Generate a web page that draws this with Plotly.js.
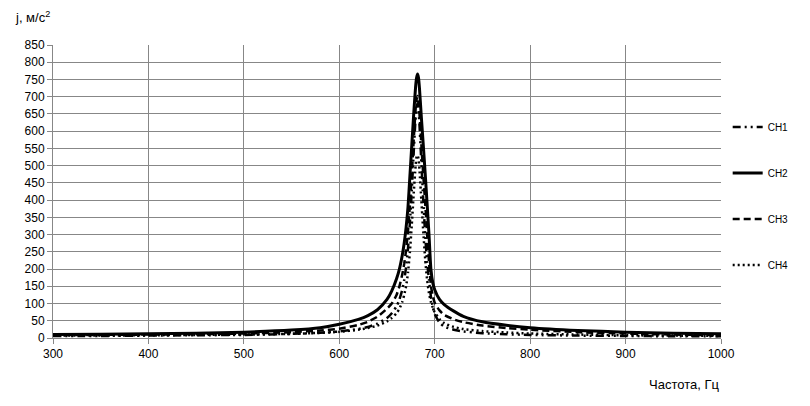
<!DOCTYPE html>
<html>
<head>
<meta charset="utf-8">
<script src="https://cdn.plot.ly/plotly-3.0.1.min.js"></script>
<style>html,body{margin:0;padding:0;background:#fff;}#chart{width:810px;height:406px;}</style>
</head>
<body>
<div id="chart"></div>
<script>
const freq = [300,350,400,450,500,550,580,600,620,630,640,650,655,660,663,666,668,670,672,674,676,678,680,681,682,683,684,686,688,690,692,694,696,698,700,705,710,720,730,750,775,800,850,900,950,1000];
const ch1 = [6,6,7,8,9,12,15,19,26,32,42,58,72,92,112,140,168,205,260,335,430,540,640,670,680,665,620,510,400,300,220,170,120,90,70,45,33,24,19,14,11,9,7,6,5,5];
const ch2 = [10,11,12,14,17,23,30,40,54,65,82,112,137,172,200,240,275,320,380,470,560,650,730,755,766,755,725,640,560,478,390,300,200,160,140,112,97,78,63,47,37,30,22,17,14,12];
const ch3 = [8,9,10,11,13,17,22,27,38,47,62,85,100,125,150,185,215,255,310,385,475,575,665,692,702,688,652,562,472,392,302,222,152,122,102,80,67,54,46,36,29,24,17,13,10,8];
const ch4 = [7,7,8,9,10,12,15,18,24,29,36,48,58,72,85,105,125,150,190,250,330,420,500,525,530,520,490,400,310,230,170,130,105,88,75,55,43,32,26,20,16,13,10,8,7,6];
const names = ['CH1','CH2','CH3','CH4'];
const series = [ch1, ch2, ch3, ch4];
const dashes = ['8px,4px,2px,4px,2px,4px','solid','7px,4px','2px,3px'];
const widths = [2.5, 3, 2.5, 2.5];

const traces = series.map((s,i)=>({
  x: freq, y: s, name: names[i], type:'scatter', mode:'lines',
  line:{color:'#000', width:widths[i], dash:dashes[i], shape:'spline', smoothing:0.6},
  legendgroup:'g'+i
}));

const layout = {
  width:810, height:406,
  margin:{l:53, r:89, t:45, b:68},
  paper_bgcolor:'#fff', plot_bgcolor:'#fff',
  font:{family:'Liberation Sans, Arial, sans-serif', size:12, color:'#000'},
  showlegend:true,
  legend:{x:1.01, xanchor:'left', y:0.77, yanchor:'top', font:{size:10}, tracegroupgap:27, traceorder:'grouped', bgcolor:'rgba(0,0,0,0)'},
  xaxis:{range:[300,1000], dtick:100, tick0:300, showgrid:true, gridcolor:'#878787', gridwidth:1,
         showline:true, linecolor:'#878787', ticks:'outside', ticklen:5, tickcolor:'#878787', zeroline:false,
         tickfont:{size:12}, mirror:false},
  yaxis:{range:[0,850], dtick:50, tick0:0, showgrid:true, gridcolor:'#878787', gridwidth:1,
         showline:true, linecolor:'#878787', ticks:'outside', ticklen:5, tickcolor:'#878787', zeroline:false,
         tickfont:{size:12}},
  annotations:[
    {text:'j, м/с<sup>2</sup>', xref:'paper', yref:'paper', x:-0.06, y:1.095, xanchor:'left', yanchor:'middle', showarrow:false, font:{size:13}},
    {text:'Частота, Гц', xref:'paper', yref:'paper', x:1.0, y:-0.16, xanchor:'right', yanchor:'middle', showarrow:false, font:{size:13}}
  ]
};
Plotly.newPlot('chart', traces, layout, {displayModeBar:false, staticPlot:true});
</script>
</body>
</html>
